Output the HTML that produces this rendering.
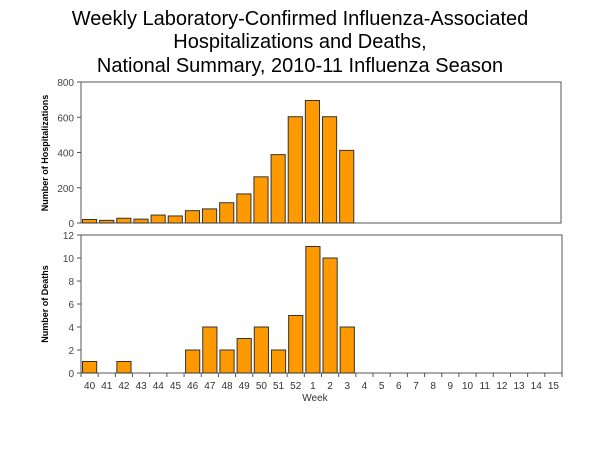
<!DOCTYPE html>
<html><head><meta charset="utf-8"><style>
body{margin:0;background:#fff;}
svg text{font-family:"Liberation Sans",Arial,sans-serif;}
</style></head><body>
<svg width="600" height="450" xmlns="http://www.w3.org/2000/svg">
<text x="300" y="25" font-size="20" text-anchor="middle">Weekly Laboratory-Confirmed Influenza-Associated</text>
<text x="300" y="48" font-size="20" text-anchor="middle">Hospitalizations and Deaths,</text>
<text x="300" y="72" font-size="20" text-anchor="middle">National Summary, 2010-11 Influenza Season</text>
<g id="top"></g>
<g id="bot"></g>
<text x="315" y="401" font-size="10" fill="#333" text-anchor="middle">Week</text>
<text transform="translate(48,153) rotate(-90)" font-size="9" font-weight="bold" text-anchor="middle">Number of Hospitalizations</text>
<text transform="translate(48,304) rotate(-90)" font-size="9" font-weight="bold" text-anchor="middle">Number of Deaths</text>
</svg>
<script>
const weeks=["40","41","42","43","44","45","46","47","48","49","50","51","52","1","2","3","4","5","6","7","8","9","10","11","12","13","14","15"];
const hospitalizations=[20,15,27,22,45,40,70,80,115,165,262,388,603,695,603,412];
const deaths=[1,0,1,0,0,0,2,4,2,3,4,2,5,11,10,4];
const hospTicks=[0,200,400,600,800];
const deathTicks=[0,2,4,6,8,10,12];
const NS="http://www.w3.org/2000/svg";
function mk(tag,attrs,parent){const e=document.createElementNS(NS,tag);for(const k in attrs)e.setAttribute(k,attrs[k]);parent.appendChild(e);return e;}
function panel(g,vals,ticks,max,top,bottom,right,showX,name){
  const left=81,n=weeks.length,bw=(right-left)/n;
  const y=v=>bottom-(v/max)*(bottom-top);
  const fr=mk('rect',{x:left,y:top,width:right-left,height:bottom-top,fill:'none',stroke:'#555','stroke-width':1},g);
  
  
  ticks.forEach(t=>{
    const tl=mk('line',{x1:left-4,x2:left,y1:y(t),y2:y(t),stroke:'#555'},g);
    
    
    const tx=mk('text',{x:left-7,y:y(t)+4,'font-size':10,fill:'#444','text-anchor':'end'},g);
    tx.textContent=t;
    
    
  });
  vals.forEach((v,i)=>{
    const r=mk('rect',{x:left+i*bw+1.5,y:y(v),width:bw-3,height:bottom-y(v),fill:'#ff9900',stroke:'#333','stroke-width':1},g);
    
    
  });
  if(showX){
    for(let i=0;i<=n;i++){
      const tl=mk('line',{x1:left+i*bw,x2:left+i*bw,y1:bottom,y2:bottom+4,stroke:'#555'},g);
      
      
    }
    weeks.forEach((w,i)=>{
      const tx=mk('text',{x:left+(i+0.5)*bw,y:bottom+16,'font-size':10,fill:'#333','text-anchor':'middle'},g);
      tx.textContent=w;
      
      
    });
  }
}
panel(document.getElementById('top'),hospitalizations,hospTicks,800,82,223,561,false,'hospitalizations');
panel(document.getElementById('bot'),deaths,deathTicks,12,235,373,562,true,'deaths');
</script>
</body></html>
